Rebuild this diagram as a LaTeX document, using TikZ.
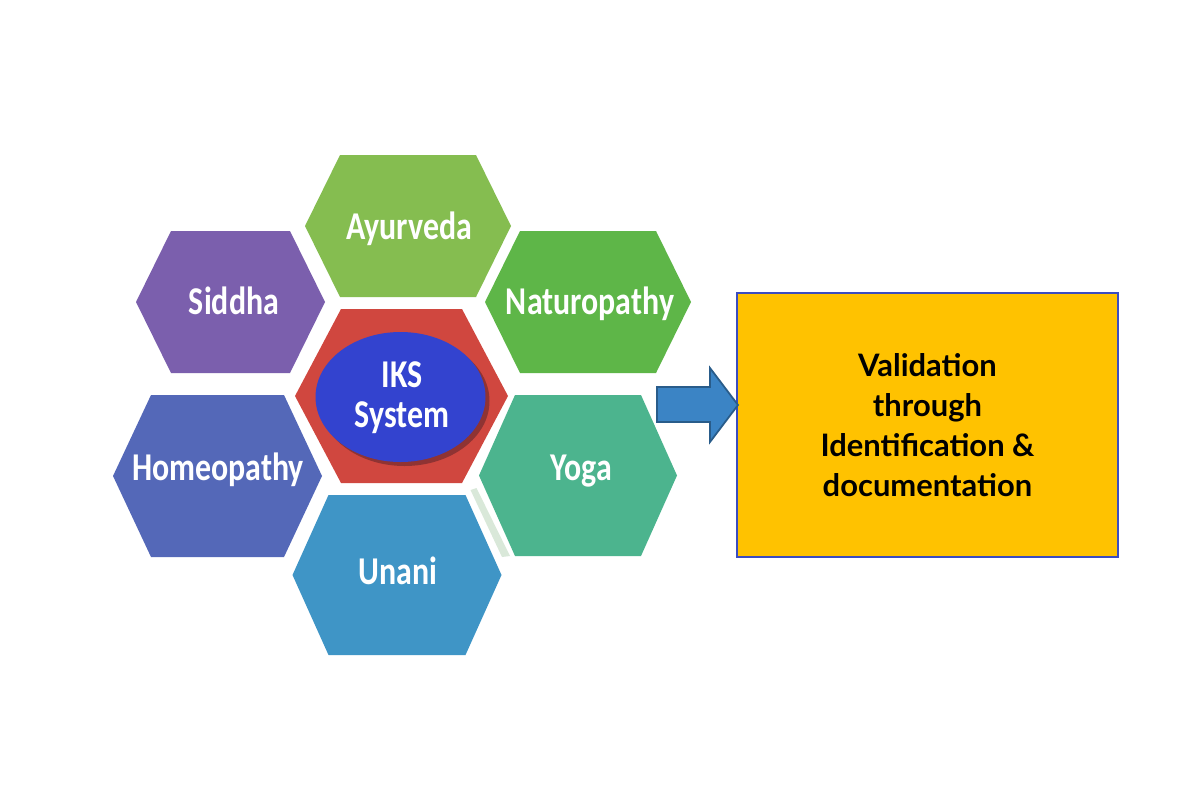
\documentclass[tikz,border=0pt]{standalone}
\usepackage{fontspec}
\newfontfamily\hexfont[FakeStretch=0.81]{Carlito}
\newfontfamily\boxfont{Lato}
\usetikzlibrary{positioning}

\definecolor{ayurc}{HTML}{85BD50}
\definecolor{siddc}{HTML}{7B5FAD}
\definecolor{natuc}{HTML}{5EB648}
\definecolor{ikshex}{HTML}{D0473F}
\definecolor{iksell}{HTML}{3343CF}
\definecolor{homec}{HTML}{5468B8}
\definecolor{yogac}{HTML}{4CB48E}
\definecolor{unanc}{HTML}{3F95C6}
\definecolor{arrowc}{HTML}{3B84C5}
\definecolor{boxc}{HTML}{FFC200}
\definecolor{boxline}{HTML}{3B4CC0}

% flat topped hexagon: name, x, y, half width, half height, slant, colour
\newcommand{\hexcell}[7]{%
  \fill[#7] ({#2-#4},#3) -- ({#2-#4+#6},{#3-#5}) -- ({#2+#4-#6},{#3-#5})
    -- ({#2+#4},#3) -- ({#2+#4-#6},{#3+#5}) -- ({#2-#4+#6},{#3+#5}) -- cycle;
  \coordinate (#1) at (#2,#3);}

\begin{document}
\begin{tikzpicture}[x=0.01cm, y=-0.01cm]

	\tikzstyle{hexlabel}=[text=white, font=\hexfont\bfseries\fontsize{11.2}{13.5}\selectfont, inner sep=0pt, anchor=base]
	\tikzstyle{valbox}=[rectangle, fill=boxc, draw=boxline, line width=0.6pt, minimum width=3.81cm, minimum height=2.64cm]
	\useasboundingbox[fill=white] (0,0) rectangle (1200,800);

	\hexcell{hayur}{408}{226}{103}{71}{35}{ayurc}
	\hexcell{hsidd}{230.5}{302}{94.5}{71}{35}{siddc}
	\hexcell{hnatu}{588}{302}{103}{71}{35}{natuc}
	\hexcell{hiks}{401.5}{396}{106.5}{87}{46}{ikshex}
	\hexcell{hhome}{217.5}{476}{104.5}{81}{38}{homec}
	\hexcell{hyoga}{578}{475.5}{99}{80.5}{36}{yogac}
	\hexcell{hunan}{397}{575}{104.5}{80}{36}{unanc}
	\fill[green!40!black!15] (470.5,490) -- (476.5,488) -- (510,556) -- (502,557) -- cycle;

	\fill[red!45!black!80] (404.5,401) ellipse [x radius=85, y radius=65];
	\fill[iksell] (400.5,397) ellipse [x radius=85, y radius=65];

	\node[hexlabel] (ayur) at (409,239) {Ayurveda};
	\node[hexlabel] (sidd) at (234,314) {Siddha};
	\node[hexlabel] (natu) at (590,314) {Naturopathy};
	\node[hexlabel] (home) at (218,480) {Homeopathy};
	\node[hexlabel] (yoga) at (581,480) {Yoga};
	\node[hexlabel] (unan) at (398,584) {Unani};
	\node[hexlabel, anchor=center, align=center] (iks) at (402,398) {IKS\\[-2.2pt]System};

	\node[valbox, align=center, font=\boxfont\bfseries\fontsize{8.8}{11.4}\selectfont] (valid) at (927.5,425) {Validation\\through\\Identification \&\\documentation};

	\coordinate (tip) at (738,405);
	\filldraw[fill=arrowc, draw=arrowc!70!black, line width=0.5pt] (657,387) -- (710,387) -- (710,368) -- (tip) -- (710,442) -- (710,422) -- (657,422) -- cycle;

\end{tikzpicture}
\end{document}
